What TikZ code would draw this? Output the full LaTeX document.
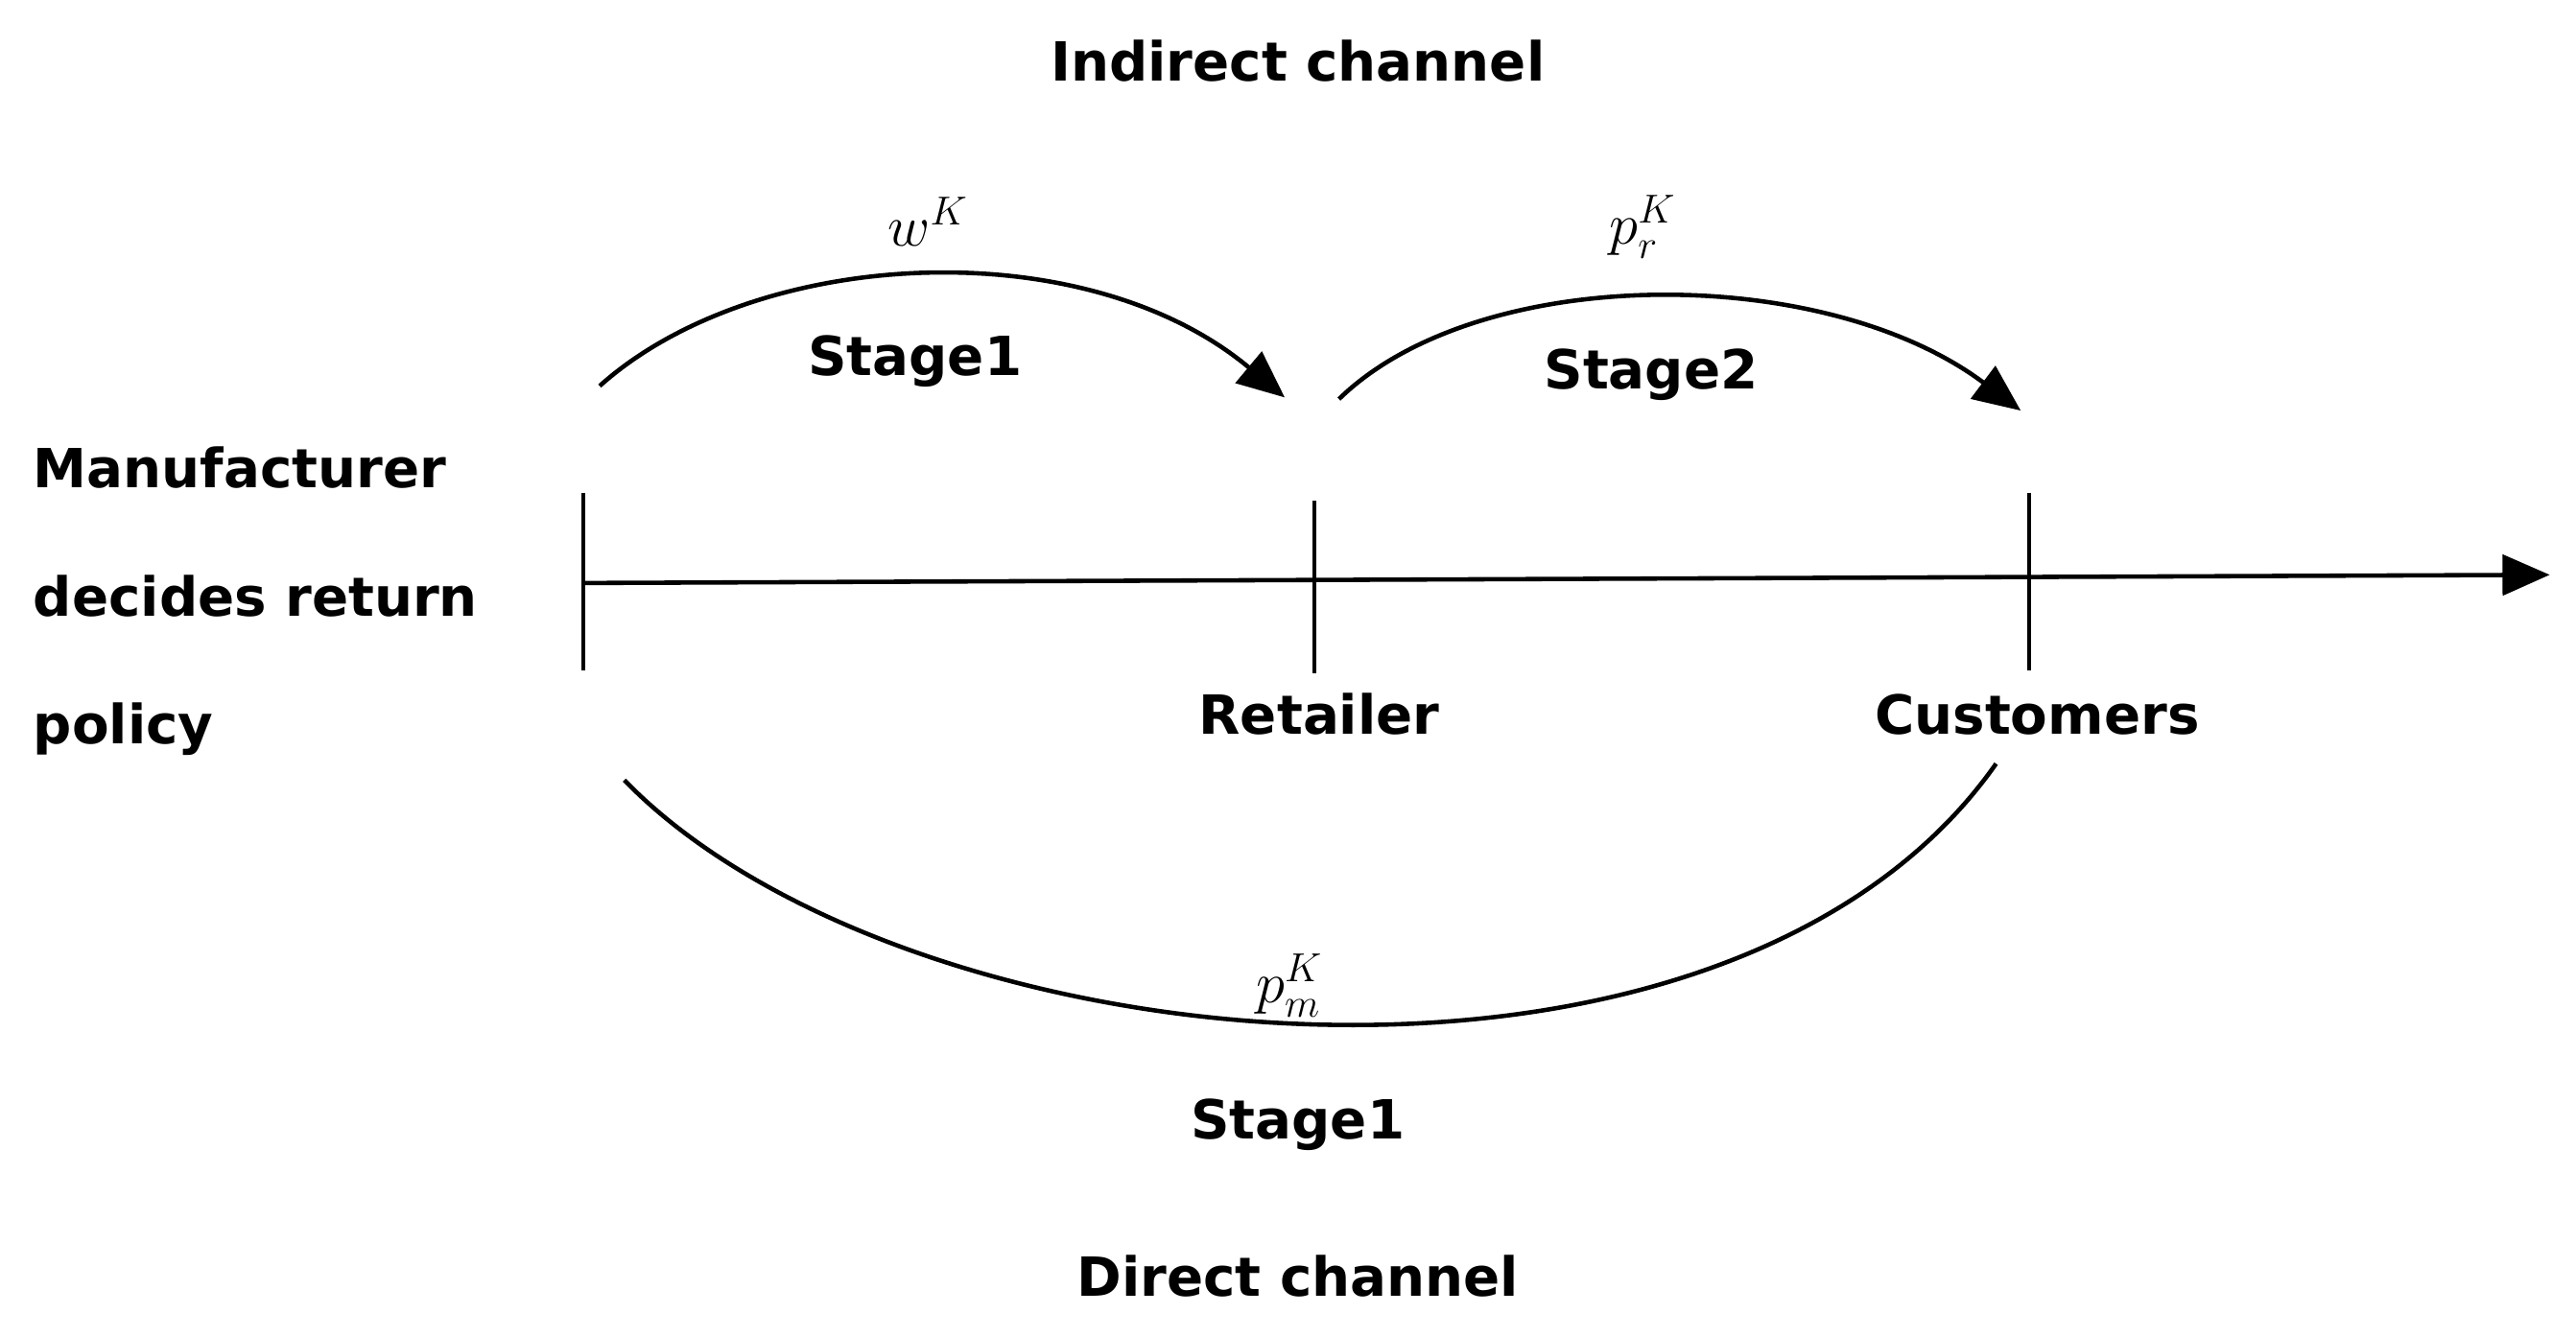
\documentclass[tikz,border=0pt]{standalone}
\usepackage{fontspec}
\setmainfont{DejaVu Sans}
\usetikzlibrary{arrows.meta}
\begin{document}
\begin{tikzpicture}[x=0.017124cm,y=-0.017124cm,
  lbl/.style={font=\fontsize{16}{19}\selectfont\bfseries,inner sep=0pt},
  mth/.style={font=\fontsize{18}{20}\selectfont,inner sep=0pt},
  ln/.style={line width=1.3pt},
  tip/.style={-{Triangle[length=14pt,width=12pt]}}]
\useasboundingbox (0,0) rectangle (1568,814);
\node[lbl] (ind) at (790,37) {Indirect channel};
\node[mth] (w) at (565,135) {$w^{K}$};
\node[mth] (pr) at (1000,138) {$p_r^{K}$};
\node[lbl] (s1) at (557,220) {Stage1};
\node[lbl] (s2) at (1005,228) {Stage2};
\node[lbl,align=left,anchor=west,font=\fontsize{16}{38}\selectfont\bfseries] (man) at (20,366) {Manufacturer\\decides return\\policy};
\node[lbl] (ret) at (803,435) {Retailer};
\node[lbl] (cus) at (1240,435) {Customers};
\node[mth] (pm) at (785,600) {$p_m^{K}$};
\node[lbl] (s1b) at (790,685) {Stage1};
\node[lbl] (dir) at (790,777) {Direct channel};
\coordinate (t0) at (355,355); \coordinate (tend) at (1552,350);
\coordinate (a1s) at (365,235); \coordinate (a1e) at (782,242);
\coordinate (a2s) at (815,243); \coordinate (a2e) at (1230,250);
\coordinate (bs) at (380,475); \coordinate (be) at (1215,465);
\draw[ln,tip] (t0) -- (tend);
\draw[ln] (355,300) -- (355,408);
\draw[ln] (800,305) -- (800,410);
\draw[ln] (1235,300) -- (1235,408);
\draw[ln,tip] (a1s) .. controls (460,150) and (660,140) .. (a1e);
\draw[ln,tip] (a2s) .. controls (900,160) and (1110,160) .. (a2e);
\draw[ln] (bs) .. controls (550,650) and (1050,700) .. (be);
\end{tikzpicture}
\end{document}
